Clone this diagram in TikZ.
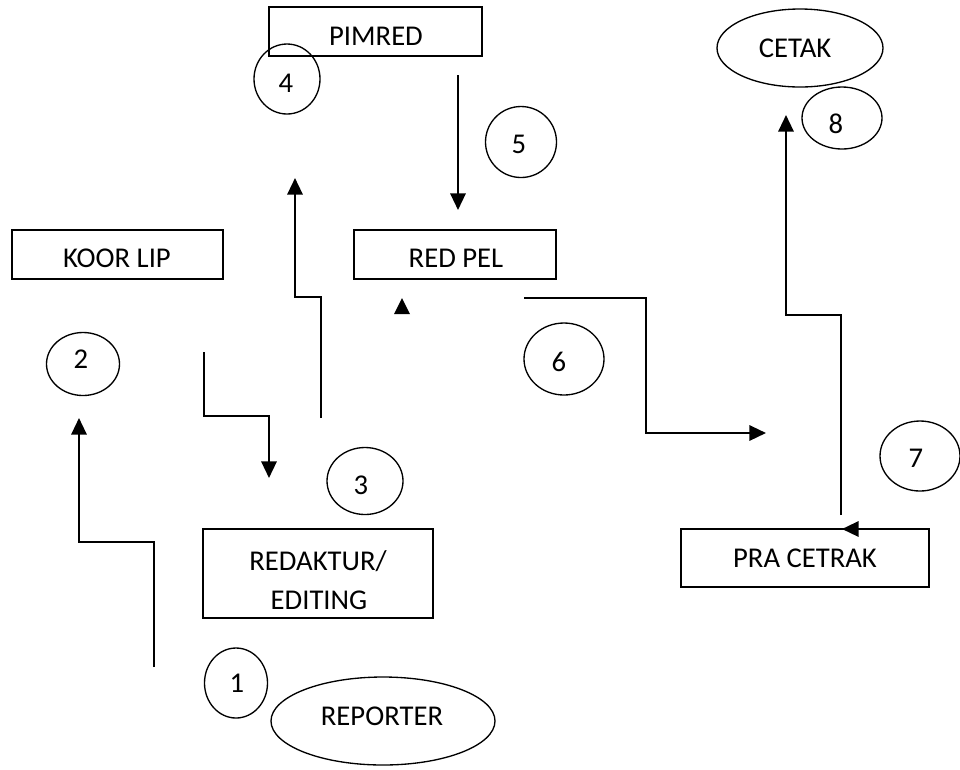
\documentclass[tikz,border=0pt]{standalone}
\usepackage{fontspec}
\setmainfont{Carlito}
\usetikzlibrary{arrows.meta,shapes.geometric}
\begin{document}
\begin{tikzpicture}[x=0.75pt,y=-0.75pt,
  lbl/.style={font=\fontsize{21.5}{25}\selectfont, anchor=base, inner sep=0pt},
  boxshape/.style={draw, line width=1.2pt, rectangle, inner sep=0pt},
  ovalshape/.style={draw, line width=1pt, ellipse, inner sep=0pt},
  conn/.style={line width=1.7pt, -{Triangle[length=12.5pt,width=11.5pt]}}]
\useasboundingbox (0,0) rectangle (960,769);

% boxes
\node[boxshape, minimum width=213*0.75pt, minimum height=49*0.75pt] (pimred) at (375.5,31.5) {};
\node[boxshape, minimum width=211*0.75pt, minimum height=49*0.75pt] (koorlip) at (117.5,254.5) {};
\node[boxshape, minimum width=202*0.75pt, minimum height=49*0.75pt] (redpel) at (455,254.5) {};
\node[boxshape, minimum width=230*0.75pt, minimum height=89*0.75pt] (redaktur) at (318,573.5) {};
\node[boxshape, minimum width=248*0.75pt, minimum height=58*0.75pt] (pracetrak) at (805,558) {};

% ellipses
\node[ovalshape, minimum width=166*0.75pt, minimum height=78*0.75pt] (cetak) at (800,48) {};
\node[ovalshape, minimum width=224*0.75pt, minimum height=88*0.75pt] (reporter) at (383,721) {};

% number circles
\node[ovalshape, minimum width=66*0.75pt, minimum height=70*0.75pt] (c4) at (287,79) {};
\node[ovalshape, minimum width=71*0.75pt, minimum height=71*0.75pt] (c5) at (521,142) {};
\node[ovalshape, minimum width=73*0.75pt, minimum height=63*0.75pt] (c2) at (83,364) {};
\node[ovalshape, minimum width=80*0.75pt, minimum height=72*0.75pt] (c6) at (564,359) {};
\node[ovalshape, minimum width=76*0.75pt, minimum height=67*0.75pt] (c3) at (365,481) {};
\node[ovalshape, minimum width=80*0.75pt, minimum height=70*0.75pt] (c7) at (920,456) {};
\node[ovalshape, minimum width=80*0.75pt, minimum height=62*0.75pt] (c8) at (842,118) {};
\node[ovalshape, minimum width=63*0.75pt, minimum height=70*0.75pt] (c1) at (236,683) {};

% texts
\node[lbl] (tpimred) at (376,45) {PIMRED};
\node[lbl] (tkoor) at (117,267) {KOOR LIP};
\node[lbl] (tredpel) at (456,267) {RED PEL};
\node[lbl] (tred1) at (318,570) {REDAKTUR/};
\node[lbl] (tred2) at (319,609) {EDITING};
\node[lbl] (tpra) at (805,567) {PRA CETRAK};
\node[lbl] (tcetak) at (795,57) {CETAK};
\node[lbl] (trep) at (382,725) {REPORTER};
\node[lbl] (n4) at (286,92) {4};
\node[lbl] (n2) at (81,368) {2};
\node[lbl] (n3) at (361,494) {3};
\node[lbl] (n5) at (519,153) {5};
\node[lbl] (n6) at (559,371) {6};
\node[lbl] (n7) at (916,467) {7};
\node[lbl] (n8) at (836,133) {8};
\node[lbl] (n1) at (237,692) {1};

% connector end points
\coordinate (a1s) at (154,667);
\coordinate (a1t) at (79,418);
\coordinate (a2s) at (204,352);
\coordinate (a2t) at (269,478);
\coordinate (a3s) at (321,418);
\coordinate (a3t) at (295,178);
\coordinate (a5s) at (458,75);
\coordinate (a5t) at (458,210);
\coordinate (a6s) at (524,298);
\coordinate (a6t) at (766,433);
\coordinate (a8s) at (841,515);
\coordinate (a8t) at (786,115);
\coordinate (tri) at (402,298);
\coordinate (pcs) at (858,529);
\coordinate (pct) at (842,529);

% connectors
\draw[conn] (a1s) |- (79,542) -- (a1t);
\draw[conn] (a2s) |- (269,416) -- (a2t);
\draw[conn] (a3s) |- (295,297) -- (a3t);
\draw[conn] (a5s) -- (a5t);
\draw[conn] (a6s) -- (646,298) |- (a6t);
\draw[conn] (a8s) |- (786,315) -- (a8t);
\draw[conn] (pcs) -- (pct);
\fill (tri) -- ++(-8,16) -- ++(16,0) -- cycle;
\end{tikzpicture}
\end{document}
